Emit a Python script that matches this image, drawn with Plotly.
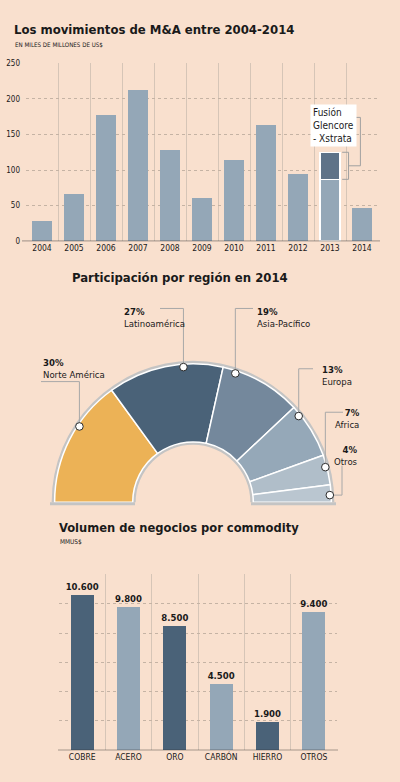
import math
import plotly.graph_objects as go

W, H = 400, 782

# ---------------- data ----------------
years = ["2004", "2005", "2006", "2007", "2008", "2009", "2010", "2011", "2012", "2013", "2014"]
ma_base = [28, 66, 177, 212, 128, 61, 114, 164, 95, 87, 46]
ma_fusion = [None, None, None, None, None, None, None, None, None, 38, None]
ma_yticks = [0, 50, 100, 150, 200, 250]

regions = ["Norte América", "Latinoamérica", "Asia-Pacífico", "Europa", "Africa", "Otros"]
region_share = [30, 27, 19, 13, 7, 4]

commodities = ["COBRE", "ACERO", "ORO", "CARBÓN", "HIERRO", "OTROS"]
commodity_values = [10600, 9800, 8500, 4500, 1900, 9400]
commodity_yticks = [0, 2000, 4000, 6000, 8000, 10000, 12000]

# ---------------- style ----------------
BG = "#F9E0CE"
LIGHT = "#94A7B7"
DARK13 = "#5F7388"
DARK = "#4A6278"
VGRID = "#D6C5B7"
HGRID = "#C5B3A4"
TXT = "#1A1A1A"
TITLE_FONT = "DejaVu Sans Condensed, DejaVu Sans, sans-serif"
BODY_FONT = "DejaVu Sans Condensed, DejaVu Sans, sans-serif"
region_colors = ["#ECB256", "#4A6278", "#74889C", "#95A8B8", "#B0BEC9", "#BAC6D0"]
commodity_colors = [DARK, LIGHT, DARK, LIGHT, DARK, LIGHT]


def px(x):
    return x / W


def py(y):
    return 1 - y / H


fig = go.Figure()

# ---------------- chart 1: M&A by year ----------------
line_cols = ["rgba(0,0,0,0)"] * len(years)
line_w = [0] * len(years)
line_cols[9] = "white"
line_w[9] = 1.5
fig.add_trace(go.Bar(x=years, y=ma_base, width=0.62, xaxis="x", yaxis="y",
                     marker=dict(color=LIGHT, line=dict(color=line_cols, width=line_w)),
                     hoverinfo="skip", showlegend=False))
fig.add_trace(go.Bar(x=years, y=ma_fusion, width=0.62, xaxis="x", yaxis="y",
                     marker=dict(color=DARK13, line=dict(color="white", width=1.5)),
                     hoverinfo="skip", showlegend=False))

# ---------------- chart 2: half donut ----------------
C_X, C_Y, R_OUT, R_IN = 193, 504, 140, 61
ring_out, ring_in = R_OUT + 3, R_IN - 3
fig.add_trace(go.Pie(values=[1, 1], sort=False, direction="clockwise", rotation=270,
                     hole=ring_in / ring_out,
                     domain=dict(x=[px(C_X - ring_out), px(C_X + ring_out)],
                                 y=[py(C_Y + ring_out), py(C_Y - ring_out)]),
                     marker=dict(colors=["#C4C4C4", "rgba(0,0,0,0)"], line=dict(width=0)),
                     textinfo="none", hoverinfo="skip", showlegend=False))
fig.add_trace(go.Pie(values=region_share + [sum(region_share)], labels=regions + [""],
                     sort=False, direction="clockwise", rotation=270,
                     hole=R_IN / R_OUT,
                     domain=dict(x=[px(C_X - R_OUT), px(C_X + R_OUT)],
                                 y=[py(C_Y + R_OUT), py(C_Y - R_OUT)]),
                     marker=dict(colors=region_colors + ["rgba(0,0,0,0)"],
                                 line=dict(color=["white"] * 6 + ["rgba(0,0,0,0)"], width=1.5)),
                     textinfo="none", hoverinfo="skip", showlegend=False))

# ---------------- chart 3: commodities ----------------
commodity_text = [f"{v:,}".replace(",", ".") for v in commodity_values]
fig.add_trace(go.Bar(x=commodities, y=commodity_values, width=0.5, xaxis="x2", yaxis="y2",
                     marker=dict(color=commodity_colors, line=dict(width=0)),
                     text=commodity_text, textposition="outside", cliponaxis=False,
                     constraintext="none",
                     textfont=dict(family=BODY_FONT, size=9.5, color=TXT, weight="bold"),
                     hoverinfo="skip", showlegend=False))

shapes = []
annotations = []

# axis baselines
shapes.append(dict(type="line", xref="paper", yref="y", x0=px(22), x1=px(380), y0=0, y1=0,
                   line=dict(color="#2B2B2B", width=1)))
shapes.append(dict(type="line", xref="paper", yref="y2", x0=px(58), x1=px(338), y0=0, y1=0,
                   line=dict(color="#2B2B2B", width=1)))

# bracket for Glencore-Xstrata (data coordinates of the 2013 stacked segment)
b_lo, b_hi = ma_base[9], ma_base[9] + ma_fusion[9]
b_mid = (b_lo + b_hi) / 2
GRAYLN = "#A0A0A0"
for yv in (b_lo, b_hi):
    shapes.append(dict(type="line", xref="x", yref="y", x0=9.38, x1=9.58, y0=yv, y1=yv,
                       line=dict(color=GRAYLN, width=1)))
shapes.append(dict(type="line", xref="x", yref="y", x0=9.58, x1=9.58, y0=b_lo, y1=b_hi,
                   line=dict(color=GRAYLN, width=1)))
shapes.append(dict(type="line", xref="x", yref="y", x0=9.58, x1=9.95, y0=b_mid, y1=b_mid,
                   line=dict(color=GRAYLN, width=1)))
shapes.append(dict(type="line", xref="x", yref="y", x0=9.95, x1=9.95, y0=b_mid, y1=174,
                   line=dict(color=GRAYLN, width=1)))
shapes.append(dict(type="line", xref="x", yref="y", x0=9.78, x1=9.95, y0=174, y1=174,
                   line=dict(color=GRAYLN, width=1)))
annotations.append(dict(xref="paper", yref="paper", x=px(310), y=py(101), xanchor="left", yanchor="top",
                        text="Fusión<br>Glencore<br>- Xstrata", align="left", showarrow=False,
                        bgcolor="white", borderpad=2,
                        font=dict(family=TITLE_FONT, size=10, color=TXT)))

# donut bottom border
for xa, xb in ((C_X - ring_out, C_X - ring_in), (C_X + ring_in, C_X + ring_out)):
    shapes.append(dict(type="rect", xref="paper", yref="paper", x0=px(xa), x1=px(xb),
                       y0=py(C_Y + 3), y1=py(C_Y), fillcolor="#C4C4C4", line=dict(width=0)))

# leader lines + markers
leader_angles = [146, 94, 72, 39.5, 15, 3]
R_MARK = 137
marks = [(C_X + R_MARK * math.cos(math.radians(a)), C_Y - R_MARK * math.sin(math.radians(a)))
         for a in leader_angles]
leader_paths = [
    lambda cx, cy: [(cx, cy), (cx, 382), (41, 382)],
    lambda cx, cy: [(cx, cy), (cx, 308), (160, 308)],
    lambda cx, cy: [(cx, cy), (cx, 308), (253, 308)],
    lambda cx, cy: [(cx, cy), (cx, 369), (313, 369)],
    lambda cx, cy: [(cx, cy), (cx, 413), (343, 413)],
    lambda cx, cy: [(cx, cy), (342, cy), (342, 467)],
]
label_pos = [
    (41, 355, "left"),
    (122, 303, "left"),
    (255, 303, "left"),
    (320, 362, "left"),
    (362, 406, "right"),
    (360, 443, "right"),
]
for i, (cx, cy) in enumerate(marks):
    pts = leader_paths[i](cx, cy)
    path = "M " + " L ".join(f"{px(x):.5f},{py(y):.5f}" for x, y in pts)
    shapes.append(dict(type="path", xref="paper", yref="paper", path=path,
                       line=dict(color="#A8A8A8", width=1)))
for i, (cx, cy) in enumerate(marks):
    shapes.append(dict(type="circle", xref="paper", yref="paper", xsizemode="pixel", ysizemode="pixel",
                       xanchor=px(cx), yanchor=py(cy), x0=-3.8, x1=3.8, y0=-3.8, y1=3.8,
                       fillcolor="white", line=dict(color="#2B2B2B", width=1)))
    lx, ly, al = label_pos[i]
    annotations.append(dict(xref="paper", yref="paper", x=px(lx), y=py(ly),
                            xanchor=al, yanchor="top", align=al, showarrow=False,
                            text=f"<b>{region_share[i]}%</b><br>{regions[i]}",
                            font=dict(family=BODY_FONT, size=9.5, color=TXT)))

# titles
annotations += [
    dict(xref="paper", yref="paper", x=px(12), y=py(25.5), xanchor="left", yanchor="middle",
         text="<b>Los movimientos de M&A entre 2004-2014</b>", showarrow=False,
         font=dict(family=TITLE_FONT, size=13, color=TXT)),
    dict(xref="paper", yref="paper", x=px(13), y=py(40.5), xanchor="left", yanchor="middle",
         text="EN MILES DE MILLONES DE US$", showarrow=False,
         font=dict(family=TITLE_FONT, size=6.2, color=TXT)),
    dict(xref="paper", yref="paper", x=px(180), y=py(276.5), xanchor="center", yanchor="middle",
         text="<b>Participación por región en 2014</b>", showarrow=False,
         font=dict(family=TITLE_FONT, size=13, color=TXT)),
    dict(xref="paper", yref="paper", x=px(57), y=py(530), xanchor="left", yanchor="middle",
         text="<b>Volumen de negocios por commodity</b>", showarrow=False,
         font=dict(family=TITLE_FONT, size=12.8, color=TXT)),
    dict(xref="paper", yref="paper", x=px(58), y=py(544), xanchor="left", yanchor="middle",
         text="MMUS$", showarrow=False,
         font=dict(family=TITLE_FONT, size=6.5, color=TXT)),
]

fig.update_layout(
    width=W, height=H, margin=dict(l=0, r=0, t=0, b=0),
    paper_bgcolor=BG, plot_bgcolor="rgba(0,0,0,0)",
    barmode="stack", bargap=0.38,
    shapes=shapes, annotations=annotations,
    xaxis=dict(domain=[px(26), px(378)], anchor="y", type="category", tickson="boundaries",
               showgrid=True, gridcolor=VGRID, gridwidth=1, showline=False, ticks="",
               zeroline=False, tickfont=dict(family=BODY_FONT, size=8.5, color=TXT), fixedrange=True),
    yaxis=dict(domain=[py(240), py(60)], anchor="x", range=[0, 250], tickvals=ma_yticks,
               showgrid=True, gridcolor=HGRID, griddash="dot", gridwidth=1, zeroline=False,
               ticks="", ticklabelstandoff=5,
               tickfont=dict(family=BODY_FONT, size=8, color=TXT), fixedrange=True),
    xaxis2=dict(domain=[px(59), px(337)], anchor="y2", type="category", tickson="boundaries",
                showgrid=True, gridcolor=VGRID, gridwidth=1, showline=False, ticks="",
                zeroline=False, tickfont=dict(family=BODY_FONT, size=8.5, color=TXT), fixedrange=True),
    yaxis2=dict(domain=[py(755), py(577)], anchor="x2", range=[0, 12000], tickvals=commodity_yticks,
                showgrid=True, gridcolor=HGRID, griddash="dot", gridwidth=1, zeroline=False,
                showticklabels=False, ticks="", fixedrange=True),
)

fig.write_html("out.html")
